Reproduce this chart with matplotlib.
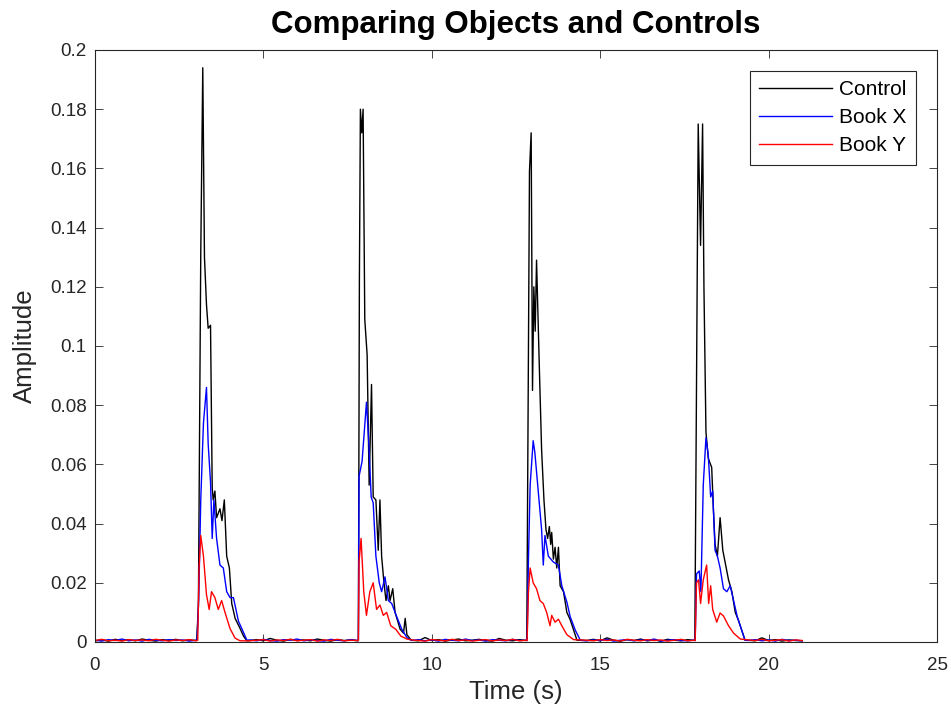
import numpy as np
import matplotlib
matplotlib.use("Agg")
import matplotlib.pyplot as plt

plt.rcParams['font.family'] = ['Liberation Sans', 'DejaVu Sans']

# ---- baseline (quiet) segments: shared time stamps ----
gap1_t = [0.0, 0.2, 0.4, 0.6, 0.8, 1.0, 1.2, 1.4, 1.6, 1.8, 2.0, 2.2, 2.4, 2.6, 2.8, 3.0]
gap2_t = [4.6, 4.8, 5.0, 5.2, 5.4, 5.6, 5.8, 6.0, 6.2, 6.4, 6.6, 6.8, 7.0, 7.2, 7.4, 7.6, 7.8]
gap3_t = [9.4, 9.6, 9.8, 10.0, 10.2, 10.4, 10.6, 10.8, 11.0, 11.2, 11.4, 11.6, 11.8, 12.0, 12.2, 12.4, 12.6, 12.8]
gap4_t = [14.6, 14.8, 15.0, 15.2, 15.4, 15.6, 15.8, 16.0, 16.2, 16.4, 16.6, 16.8, 17.0, 17.2, 17.4, 17.6, 17.8]
gap5_t = [19.4, 19.6, 19.8, 20.0, 20.2, 20.4, 20.6, 20.8, 21.0]

# Control baseline values
ctrl_gap1 = [0.0004, 0.0007, 0.0003, 0.0009, 0.0005, 0.0008, 0.0004, 0.0010, 0.0006, 0.0003, 0.0008, 0.0005, 0.0009, 0.0004, 0.0007, 0.0005]
ctrl_gap2 = [0.0005, 0.0008, 0.0004, 0.0012, 0.0006, 0.0003, 0.0009, 0.0005, 0.0007, 0.0004, 0.0010, 0.0006, 0.0003, 0.0008, 0.0005, 0.0007, 0.0004]
ctrl_gap3 = [0.0006, 0.0004, 0.0015, 0.0005, 0.0008, 0.0003, 0.0007, 0.0010, 0.0004, 0.0006, 0.0009, 0.0005, 0.0003, 0.0012, 0.0006, 0.0004, 0.0008, 0.0005]
ctrl_gap4 = [0.0005, 0.0009, 0.0004, 0.0014, 0.0006, 0.0003, 0.0008, 0.0005, 0.0010, 0.0004, 0.0007, 0.0003, 0.0009, 0.0006, 0.0004, 0.0008, 0.0005]
ctrl_gap5 = [0.0006, 0.0004, 0.0014, 0.0005, 0.0008, 0.0003, 0.0007, 0.0005, 0.0004]

# Book X baseline values
bookx_gap1 = [0.0006, 0.0003, 0.0008, 0.0005, 0.0010, 0.0004, 0.0007, 0.0003, 0.0009, 0.0006, 0.0004, 0.0008, 0.0005, 0.0007, 0.0003, 0.0006]
bookx_gap2 = [0.0007, 0.0004, 0.0009, 0.0005, 0.0003, 0.0008, 0.0006, 0.0010, 0.0004, 0.0007, 0.0005, 0.0003, 0.0009, 0.0006, 0.0004, 0.0008, 0.0005]
bookx_gap3 = [0.0005, 0.0008, 0.0004, 0.0007, 0.0003, 0.0009, 0.0006, 0.0004, 0.0010, 0.0005, 0.0007, 0.0003, 0.0008, 0.0006, 0.0004, 0.0009, 0.0005, 0.0006]
bookx_gap4 = [0.0004, 0.0007, 0.0005, 0.0009, 0.0003, 0.0006, 0.0008, 0.0004, 0.0007, 0.0005, 0.0010, 0.0003, 0.0006, 0.0008, 0.0005, 0.0004, 0.0007]
bookx_gap5 = [0.0005, 0.0008, 0.0004, 0.0007, 0.0003, 0.0009, 0.0005, 0.0006, 0.0004]

# Book Y baseline values
booky_gap1 = [0.0005, 0.0009, 0.0004, 0.0006, 0.0003, 0.0008, 0.0005, 0.0007, 0.0004, 0.0009, 0.0006, 0.0003, 0.0007, 0.0005, 0.0008, 0.0004]
booky_gap2 = [0.0004, 0.0006, 0.0008, 0.0003, 0.0007, 0.0005, 0.0009, 0.0004, 0.0006, 0.0008, 0.0003, 0.0007, 0.0005, 0.0009, 0.0004, 0.0006, 0.0005]
booky_gap3 = [0.0007, 0.0005, 0.0003, 0.0008, 0.0006, 0.0004, 0.0009, 0.0005, 0.0007, 0.0003, 0.0006, 0.0008, 0.0004, 0.0007, 0.0005, 0.0009, 0.0004, 0.0006]
booky_gap4 = [0.0006, 0.0004, 0.0008, 0.0005, 0.0007, 0.0003, 0.0009, 0.0006, 0.0004, 0.0008, 0.0005, 0.0007, 0.0003, 0.0006, 0.0009, 0.0004, 0.0006]
booky_gap5 = [0.0007, 0.0005, 0.0009, 0.0004, 0.0006, 0.0008, 0.0003, 0.0007, 0.0005]

# ---- peak segments (time, amplitude) ----
ctrl_peaks = [
    (3.02, 0.0008), (3.07, 0.012), (3.14, 0.131), (3.20, 0.194), (3.25, 0.130), (3.31, 0.114),
    (3.36, 0.106), (3.43, 0.107), (3.48, 0.052), (3.51, 0.048), (3.56, 0.051), (3.61, 0.042),
    (3.71, 0.045), (3.77, 0.041), (3.84, 0.048), (3.91, 0.029), (3.99, 0.025), (4.06, 0.013),
    (4.16, 0.008), (4.31, 0.0045), (4.41, 0.002), (4.51, 0.0004),
    (7.82, 0.0006), (7.85, 0.122), (7.88, 0.180), (7.92, 0.172), (7.96, 0.180), (8.01, 0.109),
    (8.08, 0.097), (8.14, 0.053), (8.21, 0.087), (8.26, 0.049), (8.34, 0.048), (8.41, 0.031),
    (8.46, 0.048), (8.51, 0.029), (8.58, 0.020), (8.64, 0.014), (8.71, 0.019), (8.76, 0.014),
    (8.84, 0.018), (8.91, 0.010), (9.06, 0.0043), (9.16, 0.003), (9.21, 0.008), (9.26, 0.0025),
    (9.36, 0.001),
    (12.82, 0.0006), (12.87, 0.099), (12.90, 0.159), (12.95, 0.172), (12.99, 0.085), (13.03, 0.120),
    (13.07, 0.105), (13.11, 0.129), (13.19, 0.094), (13.26, 0.065), (13.33, 0.048), (13.39, 0.038),
    (13.44, 0.035), (13.49, 0.039), (13.53, 0.033), (13.56, 0.037), (13.61, 0.028), (13.66, 0.032),
    (13.71, 0.025), (13.76, 0.032), (13.81, 0.019), (13.91, 0.017), (14.01, 0.010), (14.11, 0.0075),
    (14.21, 0.004), (14.31, 0.0006),
    (17.81, 0.0006), (17.86, 0.090), (17.91, 0.175), (17.98, 0.134), (18.04, 0.175), (18.08, 0.120),
    (18.14, 0.071), (18.21, 0.062), (18.31, 0.059), (18.36, 0.045), (18.41, 0.033), (18.48, 0.029),
    (18.56, 0.042), (18.64, 0.031), (18.74, 0.025), (18.81, 0.021), (18.91, 0.017), (19.01, 0.010),
    (19.10, 0.0075), (19.20, 0.004), (19.30, 0.0006),
]

bookx_peaks = [
    (3.03, 0.0006), (3.08, 0.015), (3.14, 0.048), (3.22, 0.074), (3.31, 0.086), (3.36, 0.067),
    (3.43, 0.054), (3.48, 0.035), (3.53, 0.048), (3.61, 0.035), (3.71, 0.026), (3.81, 0.025),
    (3.91, 0.017), (4.01, 0.015), (4.11, 0.015), (4.26, 0.007), (4.36, 0.0045), (4.51, 0.0006),
    (7.82, 0.0005), (7.84, 0.056), (7.93, 0.061), (8.06, 0.081), (8.13, 0.067), (8.20, 0.049),
    (8.26, 0.047), (8.34, 0.029), (8.44, 0.020), (8.51, 0.017), (8.61, 0.022), (8.71, 0.014),
    (8.81, 0.013), (8.96, 0.0085), (9.11, 0.0043), (9.26, 0.0015),
    (12.83, 0.0005), (12.87, 0.028), (12.92, 0.053), (13.01, 0.068), (13.06, 0.064), (13.16, 0.051),
    (13.26, 0.038), (13.31, 0.026), (13.36, 0.036), (13.46, 0.029), (13.61, 0.027), (13.76, 0.026),
    (13.86, 0.019), (14.01, 0.0135), (14.11, 0.0085), (14.26, 0.004), (14.41, 0.0006),
    (17.82, 0.0005), (17.86, 0.023), (17.94, 0.024), (17.99, 0.017), (18.06, 0.053), (18.14, 0.069),
    (18.21, 0.063), (18.28, 0.049), (18.34, 0.051), (18.41, 0.031), (18.48, 0.029), (18.56, 0.025),
    (18.66, 0.018), (18.76, 0.017), (18.86, 0.019), (18.96, 0.014), (19.07, 0.0085), (19.20, 0.004),
    (19.30, 0.0006),
]

booky_peaks = [
    (3.05, 0.0006), (3.09, 0.025), (3.14, 0.036), (3.22, 0.029), (3.31, 0.016), (3.39, 0.011),
    (3.46, 0.017), (3.56, 0.015), (3.66, 0.011), (3.76, 0.014), (3.86, 0.010), (4.01, 0.0045),
    (4.16, 0.0013), (4.31, 0.0004),
    (7.82, 0.0005), (7.84, 0.027), (7.90, 0.035), (7.98, 0.017), (8.06, 0.009), (8.16, 0.017),
    (8.26, 0.020), (8.36, 0.011), (8.46, 0.0125), (8.56, 0.009), (8.66, 0.010), (8.78, 0.0055),
    (8.93, 0.0043), (9.08, 0.002), (9.26, 0.001),
    (12.83, 0.0005), (12.87, 0.017), (12.92, 0.025), (13.01, 0.020), (13.11, 0.018), (13.21, 0.014),
    (13.31, 0.013), (13.41, 0.010), (13.51, 0.0055), (13.56, 0.009), (13.66, 0.0067), (13.76, 0.0077),
    (13.86, 0.0055), (14.01, 0.0025), (14.21, 0.0008),
    (17.82, 0.0005), (17.86, 0.020), (17.92, 0.021), (17.98, 0.013), (18.06, 0.021), (18.16, 0.026),
    (18.22, 0.013), (18.28, 0.019), (18.34, 0.011), (18.46, 0.0067), (18.56, 0.0098), (18.66, 0.0088),
    (18.81, 0.0055), (18.96, 0.003), (19.16, 0.001),
]

series_names = ["Control", "Book X", "Book Y"]
series_colors = ["black", "blue", "red"]

x_ticks = [0, 5, 10, 15, 20, 25]
y_ticks = [0, 0.02, 0.04, 0.06, 0.08, 0.1, 0.12, 0.14, 0.16, 0.18, 0.2]
y_tick_labels = ["0", "0.02", "0.04", "0.06", "0.08", "0.1", "0.12", "0.14", "0.16", "0.18", "0.2"]


def assemble(gaps, peaks):
    gap_ts = [gap1_t, gap2_t, gap3_t, gap4_t, gap5_t]
    t = []
    v = []
    for gt, gv in zip(gap_ts, gaps):
        t.extend(gt)
        v.extend(gv)
    for pt, pv in peaks:
        t.append(pt)
        v.append(pv)
    t = np.array(t)
    v = np.array(v)
    order = np.argsort(t, kind="stable")
    return t[order], v[order]


ctrl_t, ctrl_v = assemble([ctrl_gap1, ctrl_gap2, ctrl_gap3, ctrl_gap4, ctrl_gap5], ctrl_peaks)
bookx_t, bookx_v = assemble([bookx_gap1, bookx_gap2, bookx_gap3, bookx_gap4, bookx_gap5], bookx_peaks)
booky_t, booky_v = assemble([booky_gap1, booky_gap2, booky_gap3, booky_gap4, booky_gap5], booky_peaks)

fig = plt.figure(figsize=(9.51, 7.11), dpi=100)
ax = fig.add_axes([95 / 951, (711 - 642) / 711, (937 - 95) / 951, (642 - 50) / 711])

for (t, v), name, col in zip([(ctrl_t, ctrl_v), (bookx_t, bookx_v), (booky_t, booky_v)],
                             series_names, series_colors):
    ax.plot(t, v, color=col, lw=1.0, label=name)

ax.set_xlim(0, 25)
ax.set_ylim(0, 0.2)
ax.set_xticks(x_ticks)
ax.set_xticklabels([str(x) for x in x_ticks])
ax.set_yticks(y_ticks)
ax.set_yticklabels(y_tick_labels)
ax.tick_params(direction="in", top=True, right=True, length=6, width=0.6,
               labelsize=13.5, colors="#262626", pad=6)
ax.tick_params(axis="x", pad=11)
for s in ax.spines.values():
    s.set_linewidth(0.8)
    s.set_color("#262626")

ax.set_title("Comparing Objects and Controls", fontsize=22.5, fontweight="bold", pad=12)
ax.set_xlabel("Time (s)", fontsize=18.5, color="#262626", labelpad=4)
ax.set_ylabel("Amplitude", fontsize=18.5, color="#262626", labelpad=9)

leg = ax.legend(loc="upper right", fontsize=15, frameon=True, fancybox=False,
                edgecolor="#262626", framealpha=1, handlelength=3.5, handletextpad=0.35,
                borderaxespad=1.0, labelspacing=0.43, borderpad=0.45)
leg.get_frame().set_linewidth(0.8)

fig.savefig("out.png", dpi=100)
